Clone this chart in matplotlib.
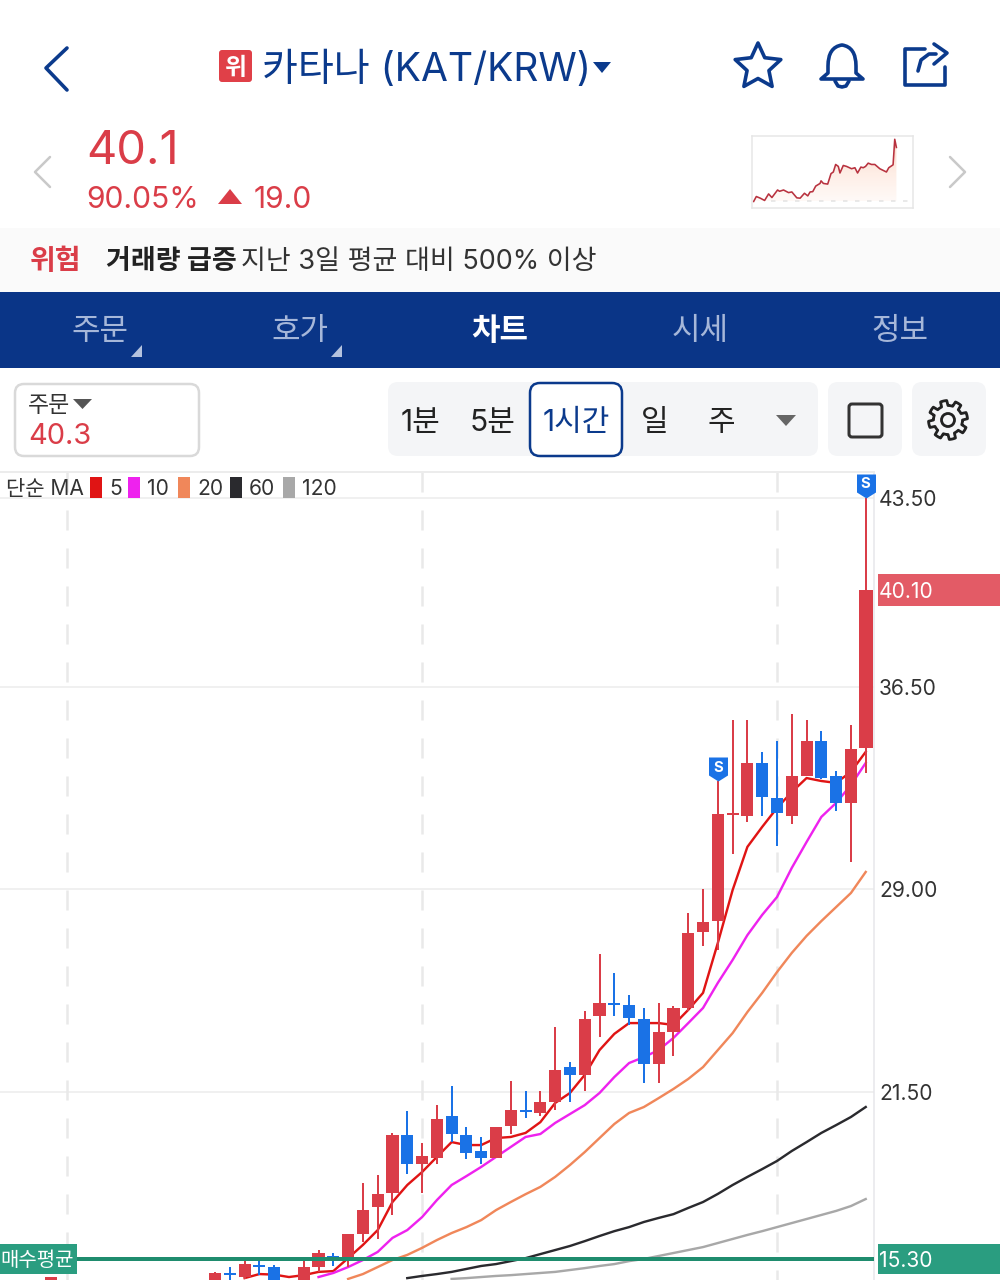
import numpy as np
import matplotlib
matplotlib.use("Agg")
import matplotlib.pyplot as plt
from matplotlib.patches import Rectangle, FancyBboxPatch, Polygon, PathPatch
from matplotlib.path import Path

plt.rcParams['font.family'] = ['Inter', 'Noto Sans CJK KR', 'DejaVu Sans']

# --- datos de la vela (1 hora) ---
opens = [14.3, 14.78, 14.63, 15.07, 15.0, 14.1, 14.3, 15.0, 15.4, 15.33, 16.22, 17.22, 17.74, 19.89, 18.82,
         19.04, 20.59, 19.89, 19.3, 19.04, 20.22, 20.82, 20.7, 21.11, 22.41, 22.11, 24.3, 24.78, 24.71, 24.19,
         22.52, 23.71, 24.6, 27.41, 27.82, 31.75, 31.71, 33.68, 32.38, 31.71, 33.2, 34.49, 33.2, 32.2, 34.23]
highs = [14.8, 15.0, 15.26, 15.37, 15.07, 14.4, 15.22, 15.63, 15.52, 16.22, 18.11, 18.41, 19.96, 20.78, 19.59,
         21.0, 21.71, 20.19, 19.82, 20.19, 21.89, 21.52, 21.52, 23.89, 22.6, 24.49, 26.6, 25.89, 25.08, 24.6,
         24.78, 24.67, 28.12, 29.01, 33.0, 35.27, 35.27, 34.09, 34.49, 35.49, 35.27, 34.86, 33.38, 35.09, 43.5]
lows = [14.2, 14.4, 14.55, 14.7, 14.2, 14.0, 14.2, 14.81, 15.03, 15.0, 15.92, 16.03, 16.92, 18.44, 17.74,
        18.82, 19.63, 19.0, 18.82, 19.04, 19.93, 20.52, 20.6, 20.82, 21.11, 21.52, 23.52, 24.3, 23.97, 21.82,
        21.82, 22.82, 24.5, 26.9, 26.75, 30.3, 31.49, 31.71, 30.6, 31.42, 33.2, 33.1, 31.9, 30.0, 33.31]
closes = [14.78, 14.7, 15.11, 15.0, 14.3, 14.3, 15.0, 15.52, 15.33, 16.22, 17.11, 17.7, 19.89, 18.82, 19.11,
          20.48, 19.93, 19.22, 19.04, 20.19, 20.82, 20.75, 21.11, 22.3, 22.11, 24.19, 24.78, 24.7, 24.23, 22.52,
          23.71, 24.6, 27.38, 27.78, 31.79, 31.82, 33.68, 32.42, 31.82, 33.2, 34.49, 33.12, 32.2, 34.2, 40.1]

ma5 = [14.59, 14.74, 14.72, 14.63, 14.7, 14.82, 14.85, 15.33, 15.82, 16.37, 17.41, 18.04, 18.52, 19.08, 19.63,
       19.52, 19.52, 19.78, 19.82, 19.97, 20.37, 21.08, 21.45, 22.12, 23.04, 23.64, 24.04, 24.04, 24.04, 23.97,
       24.53, 25.16, 27.01, 28.97, 30.57, 31.31, 32.01, 32.6, 33.12, 33.01, 32.94, 33.35, 34.09]
ma10 = [14.63, 14.78, 15.0, 15.26, 15.56, 16.08, 16.37, 16.85, 17.48, 18.04, 18.37, 18.71, 19.08, 19.45, 19.82,
        19.93, 20.34, 20.67, 21.0, 21.45, 22.04, 22.56, 22.78, 23.04, 23.49, 24.04, 24.6, 25.53, 26.38, 27.3,
        28.05, 28.71, 29.79, 30.75, 31.68, 32.2, 32.86, 33.68]
ma20 = [14.56, 14.74, 15.0, 15.26, 15.45, 15.71, 16.0, 16.26, 16.48, 16.74, 17.11, 17.41, 17.7, 17.97, 18.34,
        18.78, 19.26, 19.78, 20.3, 20.71, 20.93, 21.26, 21.6, 21.97, 22.41, 23.04, 23.67, 24.45, 25.16, 25.93,
        26.64, 27.27, 27.82, 28.34, 28.86, 29.64]
ma60 = [14.59, 14.67, 14.74, 14.82, 14.93, 15.04, 15.11, 15.22, 15.33, 15.48, 15.63, 15.78, 15.96, 16.15, 16.33,
        16.48, 16.67, 16.82, 16.96, 17.19, 17.41, 17.71, 18.04, 18.34, 18.63, 18.93, 19.3, 19.63, 19.97, 20.26,
        20.56, 20.93]
ma120 = [14.56, 14.59, 14.63, 14.67, 14.7, 14.74, 14.78, 14.82, 14.89, 14.96, 15.04, 15.11, 15.22, 15.3, 15.41,
         15.52, 15.63, 15.74, 15.89, 16.04, 16.19, 16.33, 16.48, 16.63, 16.78, 16.93, 17.08, 17.26, 17.52]

ma_periods = [5, 10, 20, 60, 120]
ma_colors = ['#E01414', '#EE22EE', '#F0875A', '#2A2A2E', '#A8A8A8']
price_ticks = [43.5, 36.5, 29.0, 21.5]
day_ticks = [-10, 14, 38]
sell_marks = [34, 44]
last_price = 40.1
avg_price = 15.3

# minigrafico de arriba
spark_t = [0, 8, 20, 33, 45, 55, 72, 78, 90, 105, 115, 130, 140, 153, 163, 170, 178, 187, 200, 203, 210, 223,
           233, 240, 247, 255, 260, 270, 280, 295, 305, 313, 323, 330, 337, 345, 355, 365, 380, 400, 407, 420, 425, 430]
spark_p = [21.1, 22.83, 22.25, 21.45, 23.75, 22.48, 25.13, 24.67, 25.13, 24.21, 24.44, 22.37, 22.25, 23.98, 23.06,
           24.44, 24.55, 26.51, 27.43, 28.35, 27.43, 27.2, 30.88, 31.45, 34.1, 33.41, 31.1, 33.75, 33.41, 32.6,
           32.95, 31.1, 33.18, 32.95, 33.41, 34.56, 34.1, 34.1, 32.6, 31.45, 32.95, 33.98, 42.95, 40.08]

RED = '#DA3D48'
BLUE = '#1A72E6'
NAVY = '#0B3A8C'
GREEN = '#1F8C6E'


def pt(px):
    return px * 72 / 100


fig = plt.figure(figsize=(10, 12.8), dpi=100, facecolor='white')

# --- interfaz en pixeles ---
ui = fig.add_axes([0, 0, 1, 1])
ui.set_xlim(0, 1000)
ui.set_ylim(1280, 0)
ui.axis('off')


def label(x, y, s, size, color='#222222', ha='left', weight='normal'):
    ui.text(x, y, s, fontsize=pt(size), color=color, ha=ha, va='center_baseline', fontweight=weight)


def poly(pts, color):
    ui.add_patch(Polygon(pts, closed=True, fc=color, ec='none'))


def stroke(xs, ys, color, lw):
    ui.plot(xs, ys, color=color, lw=pt(lw), solid_capstyle='round', solid_joinstyle='round')


def round_box(x0, y0, x1, y1, r, fc, ec='none', lw=0):
    ui.add_patch(FancyBboxPatch((x0 + r, y0 + r), x1 - x0 - 2 * r, y1 - y0 - 2 * r,
                                boxstyle=f"round,pad={r},rounding_size={r}", fc=fc, ec=ec, lw=pt(lw)))


# cabecera
stroke([67, 46, 67], [48, 68, 90], NAVY, 3.6)
round_box(219, 50, 252, 82, 3, '#E04048')
label(235.5, 66, '위', 24, 'white', 'center', 'bold')
label(262, 66, '카타나 (KAT/KRW)', 39, NAVY)
poly([(593, 62), (611, 62), (602, 73)], NAVY)

ang = np.pi / 2 + np.arange(10) * np.pi / 5
rad = np.where(np.arange(10) % 2 == 0, 24, 11.5)
ui.add_patch(Polygon(np.c_[758 + rad * np.cos(ang), 67 - rad * np.sin(ang)], closed=True, fc='none',
                     ec=NAVY, lw=pt(3.6), joinstyle='round'))

bell = Path([(821, 79), (828, 73), (828, 66), (828, 47), (842, 45), (856, 47), (856, 66), (856, 73), (863, 79), (821, 79)],
            [Path.MOVETO, Path.LINETO, Path.LINETO, Path.CURVE3, Path.CURVE3, Path.CURVE3, Path.CURVE3,
             Path.LINETO, Path.LINETO, Path.CLOSEPOLY])
ui.add_patch(PathPatch(bell, fc='none', ec=NAVY, lw=pt(3.6), joinstyle='round'))
stroke([835, 838, 842, 846, 849], [81, 86, 87, 86, 81], NAVY, 3.6)

stroke([925, 905, 905, 945, 945], [49, 49, 85, 85, 67], NAVY, 3.6)
stroke([918, 921, 929, 936], [71, 60, 54, 54], NAVY, 3.6)
stroke([934, 947, 934], [44, 53, 64], NAVY, 3.6)

# precio
label(86, 147, '40.1', 47, RED)
label(86, 197, '90.05%', 30, RED)
poly([(218, 204), (242, 204), (230, 189)], RED)
label(254, 197, '19.0', 30, RED)
stroke([50, 35, 50], [157, 172, 187], '#C9C9C9', 2.5)
stroke([950, 965, 950], [157, 172, 187], '#C9C9C9', 2.5)

# banner y pestanas
ui.add_patch(Rectangle((0, 228), 1000, 64, fc='#FAFAFA', ec='none'))
label(30, 259, '위험', 28, RED, weight='bold')
label(106, 259, '거래량 급증', 27, '#222222', weight='bold')
label(241, 259, '지난 3일 평균 대비 500% 이상', 27, '#333333')
ui.add_patch(Rectangle((0, 292), 1000, 76, fc='#0A3587', ec='none'))
for x, s in zip([100, 300, 700, 900], ['주문', '호가', '시세', '정보']):
    label(x, 329, s, 31, '#A6B7D9', 'center')
label(500, 329, '차트', 31, 'white', 'center', 'bold')
poly([(131, 357), (142, 357), (142, 345)], '#B4C2DE')
poly([(331, 357), (342, 357), (342, 345)], '#B4C2DE')

# barra de herramientas
round_box(15, 384, 199, 456, 9, 'white', '#D9D9D9', 2.5)
label(28, 404, '주문', 23, '#333333')
poly([(73, 399), (92, 399), (82.5, 409)], '#555555')
label(28, 433, '40.3', 29, RED)
round_box(388, 382, 818, 456, 10, '#F4F5F7')
round_box(828, 382, 902, 456, 10, '#F4F5F7')
round_box(912, 382, 986, 456, 10, '#F4F5F7')
round_box(530, 383, 622, 456, 10, 'white', NAVY, 2.5)
for x, s in zip([421, 492, 655, 721], ['1분', '5분', '일', '주']):
    label(x, 420, s, 30, '#222222', 'center')
label(576, 420, '1시간', 30, NAVY, 'center')
poly([(776, 415), (796, 415), (786, 426)], '#666666')
round_box(849, 404, 882, 437, 3, 'none', '#333333', 3)

# engranaje
th = np.linspace(0, 2 * np.pi, 96, endpoint=False)
rg = np.where(np.cos(8 * (th + 0.2)) > 0, 19.5, 14.5)
ui.add_patch(Polygon(np.c_[948 + rg * np.cos(th), 420 + rg * np.sin(th)], closed=True, fc='none',
                     ec='#222222', lw=pt(2.8), joinstyle='round'))
ui.add_patch(plt.Circle((948, 420), 6.5, fc='none', ec='#222222', lw=pt(2.8)))

# --- grafico de velas ---
ax = fig.add_axes([0, 0, 0.874, (1280 - 472) / 1280], facecolor='none')
ax.set_xlim(-14.54, 44.56)
ax.set_ylim(14.52, 44.46)

idx = np.arange(len(closes))
opens_a, closes_a = np.array(opens), np.array(closes)
up = closes_a >= opens_a
colors = np.where(up, RED, BLUE)

ax.set_yticks(price_ticks)
ax.set_yticklabels([f"{p:.2f}" for p in price_ticks], fontsize=pt(21), color='#333333')
ax.yaxis.tick_right()
ax.tick_params(axis='y', length=0, pad=pt(5))
ax.set_xticks([])
ax.grid(axis='y', color='#ECECEC', lw=pt(1.5))
ax.set_axisbelow(True)
for name in ['left', 'bottom']:
    ax.spines[name].set_visible(False)
ax.spines['top'].set_color('#ECECEC')
ax.spines['top'].set_linewidth(pt(2))
ax.spines['right'].set_color('#E6E6EA')
ax.spines['right'].set_linewidth(pt(1.5))

ax.vlines(day_ticks, 44.46, 14.52, color='#E9E9E9', lw=pt(2.5), linestyles=[(0, (8, 7.2))], zorder=1)

for vals, col in zip([ma5, ma10, ma20, ma60, ma120], ma_colors):
    xs = idx[-len(vals):]
    ax.plot(xs, vals, color=col, lw=pt(2.4), zorder=2, solid_joinstyle='round')

ax.vlines(idx, lows, highs, color=colors, lw=pt(2), zorder=3)
bottoms = np.minimum(opens_a, closes_a)
heights = np.maximum(np.abs(closes_a - opens_a), 0.07)
widths = np.full(len(idx), 0.82)
widths[-1] = 0.97
ax.bar(idx, heights, bottom=bottoms, width=widths, color=colors, lw=0, zorder=4)

ax.axhline(avg_price, color=GREEN, lw=pt(4), zorder=5)

# marcas S
shield = Path([(0, 0), (-9.5, 6), (-9.5, 24), (9.5, 24), (9.5, 6), (0, 0)])
for i in sell_marks:
    ax.plot(i, highs[i], marker=shield, ms=pt(48), color=BLUE, mew=0, clip_on=False, zorder=6)
    ax.annotate('S', (i, highs[i]), xytext=(0, pt(13.5)), textcoords='offset points', color='white',
                fontsize=pt(15), fontweight='bold', ha='center', va='center', zorder=7)

# etiquetas de precio a la derecha
yt = ax.get_yaxis_transform()
ax.add_patch(Rectangle((1.0046, last_price - 0.59), 0.14, 1.18, transform=yt, fc='#E35B66', ec='none', clip_on=False))
ax.text(1.0057, last_price, f"{last_price:.2f}", transform=yt, color='white', fontsize=pt(21), va='center_baseline')
ax.add_patch(Rectangle((1.0046, avg_price - 0.57), 0.14, 1.14, transform=yt, fc='#2A9D80', ec='none', clip_on=False))
ax.text(1.0057, avg_price, f"{avg_price:.2f}", transform=yt, color='white', fontsize=pt(21), va='center_baseline')
ax.add_patch(Rectangle((0, avg_price - 0.57), 77 / 874, 1.14, transform=yt, fc='#2A9D80', ec='none', zorder=6))
ax.text(0.001, avg_price, '매수평균', transform=yt, color='white', fontsize=pt(20), va='center_baseline', zorder=7)

# leyenda MA
ui2 = fig.add_axes([0, 0, 1, 1], facecolor='none')
ui2.set_xlim(0, 1000)
ui2.set_ylim(1280, 0)
ui2.axis('off')
ui2.text(6, 487, '단순 MA', fontsize=pt(21), color='#333333', va='center_baseline')
for x, p, col in zip([90, 128, 178, 230, 283], ma_periods, ma_colors):
    ui2.add_patch(Rectangle((x, 477), 12, 21, fc=col, ec='none'))
    ui2.text(x + 19, 487, str(p), fontsize=pt(21), color='#333333', va='center_baseline')
ui2.add_patch(Rectangle((45, 1277), 12, 4, fc=RED, ec='none'))

# minigrafico
sp = fig.add_axes([752 / 1000, 1 - 208 / 1280, 161 / 1000, 72 / 1280])
sp.set_xlim(-5, 480)
sp.set_ylim(18.8, 44.1)
sp.set_xticks([])
sp.set_yticks([])
for s in sp.spines.values():
    s.set_color('#E6E6E6')
    s.set_linewidth(pt(1.5))
sp.plot(spark_t, spark_p, color='#B8323F', lw=pt(1.6))
sp.axhline(spark_p[0], color='#E2E2E2', lw=pt(1.5), ls=(0, (3, 5)), xmin=0.12, xmax=0.97)
grad = sp.imshow(np.linspace(0.3, 0, 64).reshape(-1, 1), extent=(-5, 480, 21.1, 44.1), aspect='auto',
                 cmap='Reds', vmin=0, vmax=1, alpha=0.55, origin='upper')
fill = sp.fill_between(spark_t, spark_p, 21.1, color='none')
grad.set_clip_path(fill.get_paths()[0], transform=sp.transData)

fig.savefig("out.png", dpi=100)
